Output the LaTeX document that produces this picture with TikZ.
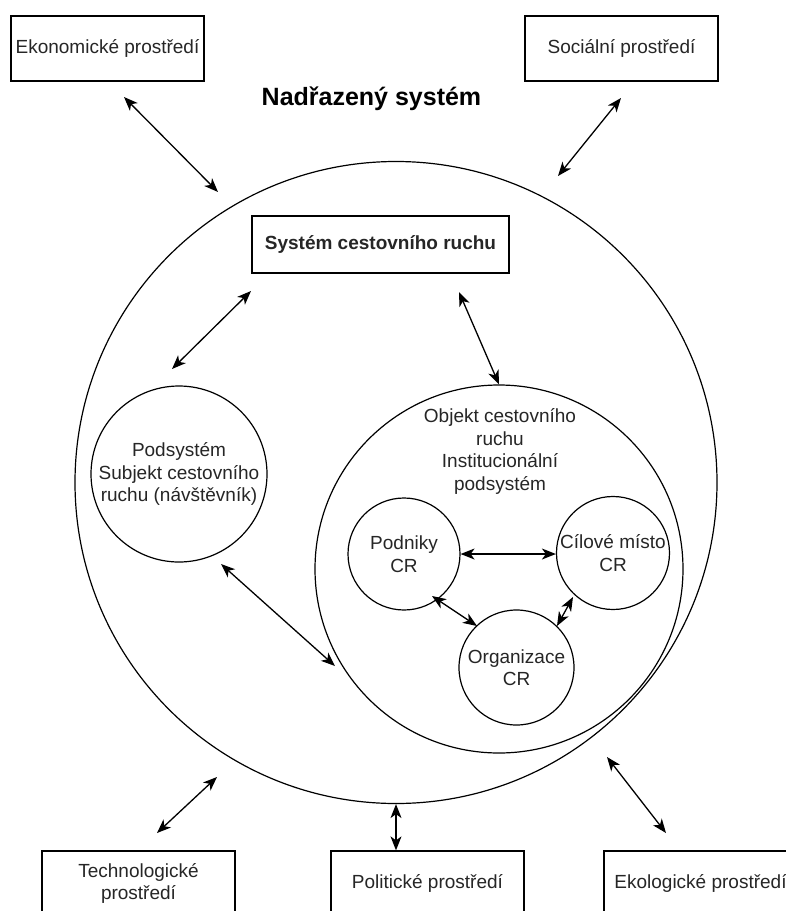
\documentclass[tikz,border=0pt]{standalone}
\usepackage{fontspec}
\setmainfont{Liberation Sans}
\usetikzlibrary{arrows.meta}

\begin{document}
\begin{tikzpicture}[x=1pt,y=-1pt]
  \tikzset{every node/.style={font=\fontsize{19}{22.5}\selectfont,text=black!85,align=center},
    envbox/.style={draw=black,line width=1.3pt,minimum width=193pt,minimum height=65pt,inner sep=0pt},
    ring/.style={draw=black,circle,line width=1.2pt,inner sep=0pt},
    biarrow/.style={{Stealth[length=14pt,width=11pt,inset=4pt]}-{Stealth[length=14pt,width=11pt,inset=4pt]},line width=1.3pt}}
  \clip (0,0) rectangle (786,911);
  \fill[white] (0,0) rectangle (786,911);
  % okoli
  \node[envbox] (eko) at (107.5,48.5) {Ekonomické prostředí};
  \node[envbox] (soc) at (621.5,48.5) {Sociální prostředí};
  \node[envbox] (tech) at (138.5,883.5) {Technologické\\prostředí};
  \node[envbox] (polit) at (427.5,883.5) {Politické prostředí};
  \node[envbox] (ekol) at (700.5,883.5) {Ekologické prostředí};
  % systemy
  \node[ring,minimum size=642pt] (nadr) at (396,482.5) {};
  \node[font=\fontsize{25}{30}\selectfont\bfseries,text=black] (nadrT) at (371.5,99) {Nadřazený systém};
  \node[draw=black,line width=1.3pt,minimum width=257pt,minimum height=57pt,inner sep=0pt,
    font=\fontsize{19}{22.5}\selectfont\bfseries] (scr) at (380.5,244.5) {Systém cestovního ruchu};
  \node[ring,minimum size=176pt,label={center:{Podsystém\\Subjekt cestovního\\ruchu (návštěvník)}}] (subj) at (179,474) {};
  \node[ring,minimum size=368pt] (objekt) at (499,569) {};
  \node (objektT) at (500,451.5) {Objekt cestovního\\ruchu\\Institucionální\\podsystém};
  \node[ring,minimum size=112pt,label={center:{Podniky\\CR}}] (podniky) at (404,554) {};
  \node[ring,minimum size=113pt,label={center:{Cílové místo\\CR}}] (cil) at (613,553) {};
  \node[ring,minimum size=115pt,label={center:{Organizace\\CR}}] (org) at (516.5,667.5) {};
  % konce spojnic
  \coordinate (ekoTip) at (124,97);
  \coordinate (nadrEko) at (218,192);
  \coordinate (socTip) at (621,98);
  \coordinate (nadrSoc) at (558,176);
  \coordinate (scrSubj) at (251,291);
  \coordinate (subjTip) at (172,369);
  \coordinate (scrObj) at (459,292);
  \coordinate (subjObj) at (221,564);
  \coordinate (objSubj) at (335,666);
  \coordinate (podOrg) at (432,596);
  \coordinate (orgPod) at (477,626);
  \coordinate (cilOrg) at (573,597);
  \coordinate (orgCil) at (557,626);
  \coordinate (nadrTech) at (217,777);
  \coordinate (techTip) at (157,833);
  \coordinate (nadrEkol) at (607,757);
  \coordinate (ekolTip) at (666,833);
  % spojnice
  \draw[biarrow] (ekoTip) -- (nadrEko);
  \draw[biarrow] (socTip) -- (nadrSoc);
  \draw[biarrow] (scrSubj) -- (subjTip);
  \draw[biarrow] (scrObj) -- (objekt.north);
  \draw[biarrow] (subjObj) -- (objSubj);
  \draw[biarrow] (podniky.east) -- (podniky.east -| cil.west);
  \draw[biarrow] (podOrg) -- (orgPod);
  \draw[biarrow] (cilOrg) -- (orgCil);
  \draw[biarrow] (nadr.south) -- (nadr.south |- polit.north);
  \draw[biarrow] (nadrTech) -- (techTip);
  \draw[biarrow] (nadrEkol) -- (ekolTip);
\end{tikzpicture}
\end{document}
